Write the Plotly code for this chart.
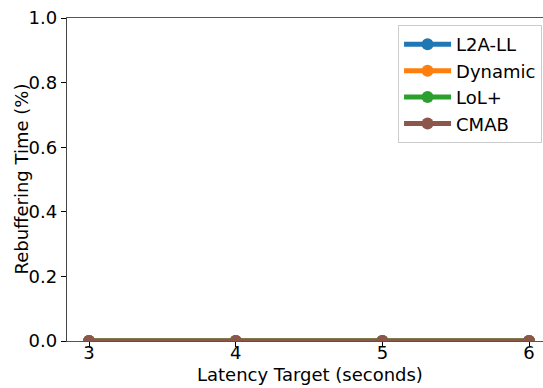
import plotly.graph_objects as go

latency_targets = [3, 4, 5, 6]
l2a_ll = [0, 0, 0, 0]
dynamic = [0, 0, 0, 0]
lolp = [0, 0, 0, 0]
cmab = [0, 0, 0, 0]

series = [
    ("L2A-LL", l2a_ll, "#1f77b4"),
    ("Dynamic", dynamic, "#ff7f0e"),
    ("LoL+", lolp, "#2ca02c"),
    ("CMAB", cmab, "#8c564b"),
]

fig = go.Figure()
for i, (name, vals, col) in enumerate(series):
    fig.add_trace(go.Scatter(
        x=latency_targets, y=vals, name=name, mode="lines+markers",
        line=dict(color=col, width=5),
        marker=dict(color=col, size=12),
        cliponaxis=True,
    ))

fam = "DejaVu Sans"
tfont = dict(family=fam, size=18, color="black")
fig.update_layout(
    width=543, height=388,
    margin=dict(l=67, r=0, t=18, b=47),
    paper_bgcolor="white", plot_bgcolor="white",
    font=tfont,
    showlegend=True,
    legend=dict(
        x=0.998, y=0.978, xanchor="right", yanchor="top",
        bordercolor="#cccccc", borderwidth=1, bgcolor="white",
        font=dict(family=fam, size=18, color="black"),
        itemwidth=47,
    ),
    xaxis=dict(
        range=[2.85, 6.095], tickvals=latency_targets,
        ticktext=[str(v) for v in latency_targets],
        tickfont=tfont,
        showgrid=False, zeroline=False,
        showline=True, linecolor="#555555", linewidth=1.3, mirror=True,
        ticks="outside", ticklen=5, tickcolor="black",
        ticklabelstandoff=-10,
    ),
    yaxis=dict(
        range=[0, 1.0], tickvals=[0, 0.2, 0.4, 0.6, 0.8, 1.0],
        tickformat=".1f",
        tickfont=tfont,
        showgrid=False, zeroline=False,
        showline=True, linecolor="#444444", linewidth=1.3,
        ticks="outside", ticklen=5, tickcolor="black",
    ),
    annotations=[
        dict(text="Latency Target (seconds)", xref="paper", yref="paper",
             x=0.5095, y=-0.105, xanchor="center", yanchor="middle",
             showarrow=False, font=tfont),
        dict(text="Rebuffering Time (%)", xref="paper", yref="paper",
             x=-0.0966, y=0.5, xanchor="center", yanchor="middle",
             textangle=-90, showarrow=False, font=tfont),
    ],
)
fig.write_html("out.html")
